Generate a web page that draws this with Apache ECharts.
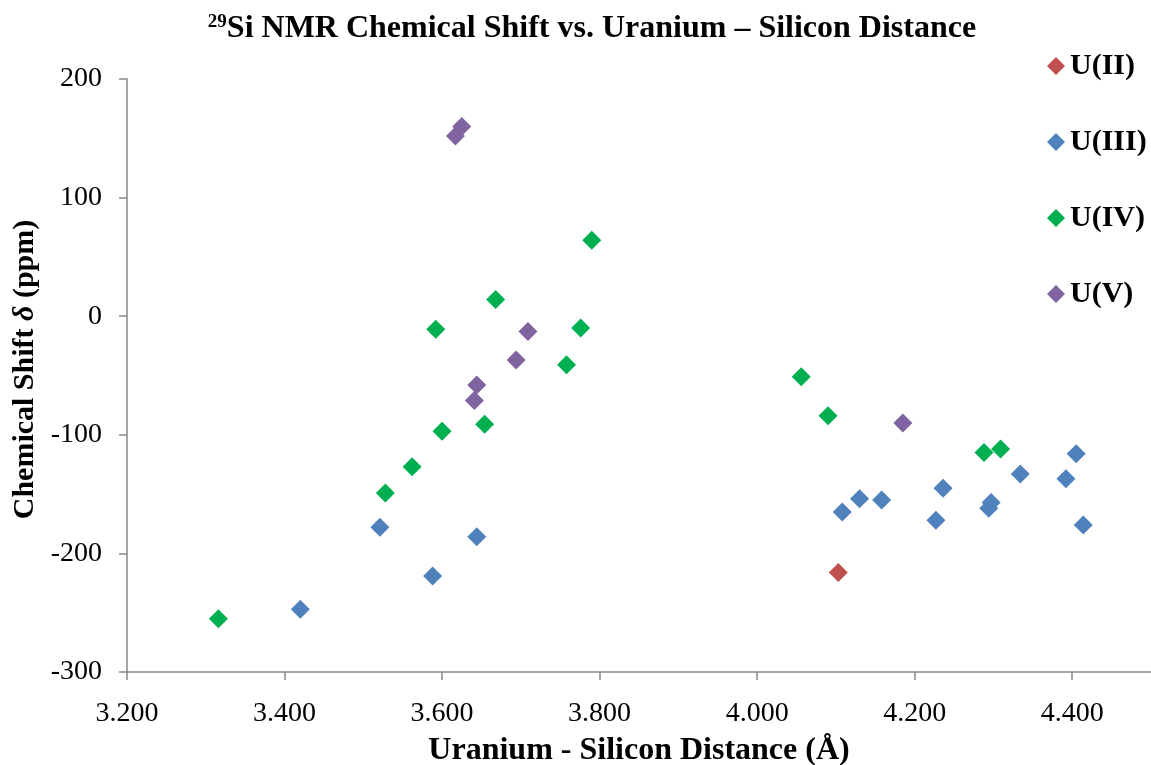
<!DOCTYPE html>
<html>
<head>
<meta charset="utf-8">
<script src="https://cdn.jsdelivr.net/npm/echarts@6/dist/echarts.min.js"></script>
<style>html,body{margin:0;padding:0;background:#fff}#c{width:1151px;height:765px}</style>
</head>
<body>
<div id="c"></div>
<script>
const seriesNames = ['U(II)', 'U(III)', 'U(IV)', 'U(V)'];
const seriesColors = ['#C0504D', '#4F81BD', '#00B050', '#8064A2'];
const uII = [[4.103, -216]];
const uIII = [[3.420, -247], [3.521, -178], [3.588, -219], [3.644, -186], [4.108, -165], [4.130, -154], [4.158, -155], [4.227, -172], [4.236, -145], [4.294, -162], [4.297, -157], [4.334, -133], [4.392, -137], [4.405, -116], [4.414, -176]];
const uIV = [[3.316, -255], [3.528, -149], [3.562, -127], [3.592, -11], [3.600, -97], [3.654, -91], [3.668, 14], [3.758, -41], [3.776, -10], [3.790, 64], [4.056, -51], [4.090, -84], [4.288, -115], [4.309, -112]];
const uV = [[3.617, 152], [3.625, 160], [3.641, -71], [3.644, -58], [3.694, -37], [3.709, -13], [4.185, -90]];
const xTicks = {min: 3.2, max: 4.5, interval: 0.2};
const yTicks = {min: -300, max: 200, interval: 100};

const font = 'Liberation Serif';
const chart = echarts.init(document.getElementById('c'));
const allData = [uII, uIII, uIV, uV];
chart.setOption({
  animation: false,
  backgroundColor: '#fff',
  title: {
    text: '{sup|29}{m|Si NMR Chemical Shift vs. Uranium – Silicon Distance}',
    left: 587, top: 8, textAlign: 'center',
    textStyle: {
      rich: {
        sup: {fontFamily: font, fontWeight: 'bold', fontSize: 19, color: '#000', verticalAlign: 'top', padding: [0, 0, 12, 0]},
        m: {fontFamily: font, fontWeight: 'bold', fontSize: 32, color: '#000'}
      }
    }
  },
  legend: {
    orient: 'vertical', left: 1042, top: 46, itemGap: 46,
    itemWidth: 18, itemHeight: 18,
    data: seriesNames.map(n => ({name: n, icon: 'diamond'})),
    textStyle: {fontFamily: font, fontWeight: 'bold', fontSize: 30, color: '#000'}
  },
  grid: {left: 127, top: 79, right: 0, bottom: 93, containLabel: false, outerBoundsMode: 'none'},
  xAxis: {
    type: 'value', min: xTicks.min, max: xTicks.max, interval: xTicks.interval,
    name: 'Uranium - Silicon Distance (Å)', nameLocation: 'middle', nameGap: 63,
    nameTextStyle: {fontFamily: font, fontWeight: 'bold', fontSize: 32, color: '#000'},
    axisLine: {onZero: false, lineStyle: {color: '#898989', width: 1.5}},
    axisTick: {show: true, length: 8, lineStyle: {color: '#898989', width: 1.5}},
    splitLine: {show: false},
    axisLabel: {fontFamily: font, fontSize: 28, color: '#000', margin: 28, showMaxLabel: false,
      formatter: v => v.toFixed(3)}
  },
  yAxis: {
    type: 'value', min: yTicks.min, max: yTicks.max, interval: yTicks.interval,
    name: '{b|Chemical Shift }{i|δ}{b| (ppm)}', nameLocation: 'middle', nameGap: 85,
    nameTextStyle: {
      padding: [0, 0, 0, 12],
      rich: {
        b: {fontFamily: font, fontWeight: 'bold', fontSize: 30, color: '#000'},
        i: {fontFamily: font, fontWeight: 'bold', fontStyle: 'italic', fontSize: 30, color: '#000'}
      }
    },
    axisLine: {show: true, onZero: false, lineStyle: {color: '#898989', width: 1.5}},
    axisTick: {show: true, length: 8, lineStyle: {color: '#898989', width: 1.5}},
    splitLine: {show: false},
    axisLabel: {fontFamily: font, fontSize: 28, color: '#000', margin: 25}
  },
  series: seriesNames.map((n, i) => ({
    name: n, type: 'scatter', symbol: 'diamond', symbolSize: 19,
    itemStyle: {color: seriesColors[i], opacity: 1},
    data: allData[i]
  }))
});
</script>
</body>
</html>
